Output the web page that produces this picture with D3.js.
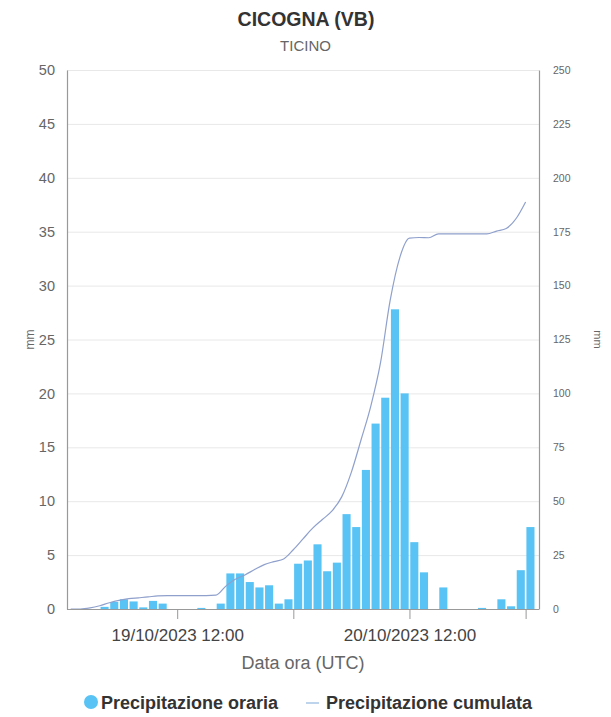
<!DOCTYPE html>
<html>
<head>
<meta charset="utf-8">
<script src="https://cdn.jsdelivr.net/npm/d3@7"></script>
<style>
  html, body { margin: 0; padding: 0; background: #fff; }
  svg { display: block; font-family: "Liberation Sans", Arial, sans-serif; }
</style>
</head>
<body>
<svg id="chart" width="611" height="717"></svg>
<script>
// Hourly precipitation (mm), each value covers the hour starting at the given UTC time
const hourStart = [
  "2023-10-19T04:00Z", "2023-10-19T05:00Z", "2023-10-19T06:00Z", "2023-10-19T07:00Z",
  "2023-10-19T08:00Z", "2023-10-19T09:00Z", "2023-10-19T10:00Z", "2023-10-19T11:00Z",
  "2023-10-19T12:00Z", "2023-10-19T13:00Z", "2023-10-19T14:00Z", "2023-10-19T15:00Z",
  "2023-10-19T16:00Z", "2023-10-19T17:00Z", "2023-10-19T18:00Z", "2023-10-19T19:00Z",
  "2023-10-19T20:00Z", "2023-10-19T21:00Z", "2023-10-19T22:00Z", "2023-10-19T23:00Z",
  "2023-10-20T00:00Z", "2023-10-20T01:00Z", "2023-10-20T02:00Z", "2023-10-20T03:00Z",
  "2023-10-20T04:00Z", "2023-10-20T05:00Z", "2023-10-20T06:00Z", "2023-10-20T07:00Z",
  "2023-10-20T08:00Z", "2023-10-20T09:00Z", "2023-10-20T10:00Z", "2023-10-20T11:00Z",
  "2023-10-20T12:00Z", "2023-10-20T13:00Z", "2023-10-20T14:00Z", "2023-10-20T15:00Z",
  "2023-10-20T16:00Z", "2023-10-20T17:00Z", "2023-10-20T18:00Z", "2023-10-20T19:00Z",
  "2023-10-20T20:00Z", "2023-10-20T21:00Z", "2023-10-20T22:00Z", "2023-10-20T23:00Z",
  "2023-10-21T00:00Z"
];
const rainHourly = [
  0.2, 0.65, 0.9, 0.7,
  0.15, 0.75, 0.5, 0,
  0, 0, 0.1, 0,
  0.5, 3.3, 3.3, 2.5,
  2.0, 2.2, 0.5, 0.9,
  4.2, 4.5, 6.0, 3.5,
  4.3, 8.8, 7.6, 12.9,
  17.2, 19.6, 27.8, 20.0,
  6.2, 3.4, 0, 2.0,
  0, 0, 0, 0.1,
  0, 0.9, 0.25, 3.6,
  7.6
];

// Cumulative precipitation (mm) on the right axis
const cumTime = [
  "2023-10-19T01:00Z", "2023-10-19T02:00Z", "2023-10-19T03:00Z", "2023-10-19T04:00Z",
  "2023-10-19T05:00Z", "2023-10-19T06:00Z", "2023-10-19T07:00Z", "2023-10-19T08:00Z",
  "2023-10-19T09:00Z", "2023-10-19T10:00Z", "2023-10-19T11:00Z", "2023-10-19T12:00Z",
  "2023-10-19T13:00Z", "2023-10-19T14:00Z", "2023-10-19T15:00Z", "2023-10-19T16:00Z",
  "2023-10-19T17:00Z", "2023-10-19T18:00Z", "2023-10-19T19:00Z", "2023-10-19T20:00Z",
  "2023-10-19T21:00Z", "2023-10-19T22:00Z", "2023-10-19T23:00Z", "2023-10-20T00:00Z",
  "2023-10-20T01:00Z", "2023-10-20T02:00Z", "2023-10-20T03:00Z", "2023-10-20T04:00Z",
  "2023-10-20T05:00Z", "2023-10-20T06:00Z", "2023-10-20T07:00Z", "2023-10-20T08:00Z",
  "2023-10-20T09:00Z", "2023-10-20T10:00Z", "2023-10-20T11:00Z", "2023-10-20T12:00Z",
  "2023-10-20T13:00Z", "2023-10-20T14:00Z", "2023-10-20T15:00Z", "2023-10-20T16:00Z",
  "2023-10-20T17:00Z", "2023-10-20T18:00Z", "2023-10-20T19:00Z", "2023-10-20T20:00Z",
  "2023-10-20T21:00Z", "2023-10-20T22:00Z", "2023-10-20T23:00Z", "2023-10-21T00:00Z"
];
const rainCumulative = [
  0, 0, 0.5, 1.5,
  2.9, 4.0, 4.8, 5.2,
  5.6, 6.1, 6.2, 6.2,
  6.2, 6.2, 6.2, 6.4,
  10.5, 13.8, 15.8, 18.3,
  20.6, 22.0, 23.2, 27.5,
  32.5, 37.5, 41.5, 45.5,
  52, 63.5, 78.5, 94,
  114, 143, 163, 172,
  172.3, 172.2, 174, 174,
  174, 174, 174, 174,
  175.3, 176.5, 181, 188.8
];

const leftTicks = [0, 5, 10, 15, 20, 25, 30, 35, 40, 45, 50];
const rightTicks = [0, 25, 50, 75, 100, 125, 150, 175, 200, 225, 250];
const xTicks = ["2023-10-19T12:00Z", "2023-10-20T00:00Z", "2023-10-20T12:00Z", "2023-10-21T00:00Z"];
const xTickLabels = ["19/10/2023 12:00", "", "20/10/2023 12:00", ""];

const titleText = "CICOGNA (VB)";
const subtitleText = "TICINO";
const xAxisTitle = "Data ora (UTC)";
const yAxisTitle = "mm";
const seriesNames = ["Precipitazione oraria", "Precipitazione cumulata"];

const barColor = "#58c3f4";
const lineColor = "#8fa0cc";

const svg = d3.select("#chart");
const W = 611, H = 717;
const m = { left: 67, right: 72, top: 70, bottom: 108 };
const plotW = W - m.left - m.right;
const plotH = H - m.top - m.bottom;

const x = d3.scaleUtc()
  .domain([new Date("2023-10-19T00:37Z"), new Date("2023-10-21T01:23Z")])
  .range([m.left, m.left + plotW]);
const yL = d3.scaleLinear().domain([0, 50]).range([m.top + plotH, m.top]);
const yR = d3.scaleLinear().domain([0, 250]).range([m.top + plotH, m.top]);

// Title and subtitle
svg.append("text").attr("x", 306).attr("y", 26).attr("text-anchor", "middle")
  .attr("font-size", 19.5).attr("font-weight", "bold").attr("fill", "#333").text(titleText);
svg.append("text").attr("x", 305.5).attr("y", 51).attr("text-anchor", "middle")
  .attr("font-size", 15).attr("fill", "#666").text(subtitleText);

// Gridlines
svg.append("g").selectAll("line").data(leftTicks.slice(1)).join("line")
  .attr("x1", m.left).attr("x2", m.left + plotW)
  .attr("y1", d => yL(d) + 0.5).attr("y2", d => yL(d) + 0.5)
  .attr("stroke", "#e8e8e8").attr("stroke-width", 1);

// Left axis
const gL = svg.append("g").attr("transform", `translate(${m.left},0)`)
  .call(d3.axisLeft(yL).tickValues(leftTicks).tickSize(0).tickPadding(12));
gL.select(".domain").attr("stroke", "#999").attr("stroke-width", 1.2);
gL.selectAll("text").attr("font-size", 14.5).attr("fill", "#666")
  .attr("font-family", "'Liberation Sans', Arial, sans-serif");

// Right axis
const gR = svg.append("g").attr("transform", `translate(${m.left + plotW},0)`)
  .call(d3.axisRight(yR).tickValues(rightTicks).tickSize(0).tickPadding(14));
gR.select(".domain").attr("stroke", "#999").attr("stroke-width", 1.2);
gR.selectAll("text").attr("font-size", 10.5).attr("fill", "#666")
  .attr("font-family", "'Liberation Sans', Arial, sans-serif");

// Axis titles
svg.append("text").attr("transform", `translate(34,${m.top + plotH / 2}) rotate(-90)`)
  .attr("text-anchor", "middle").attr("font-size", 12).attr("fill", "#666").text(yAxisTitle);
svg.append("text").attr("transform", `translate(594,${m.top + plotH / 2}) rotate(90)`)
  .attr("text-anchor", "middle").attr("font-size", 11).attr("fill", "#666").text(yAxisTitle);

// Hourly bars
const bars = hourStart.map((t, i) => ({ t0: new Date(t), v: rainHourly[i] }));
svg.append("g").selectAll("rect").data(bars.filter(d => d.v > 0)).join("rect")
  .attr("x", d => x(d.t0) + 0.8)
  .attr("width", d => x(d3.utcHour.offset(d.t0, 1)) - x(d.t0) - 1.6)
  .attr("y", d => yL(d.v))
  .attr("height", d => yL(0) - yL(d.v))
  .attr("fill", barColor);

// Cumulative line
const cum = cumTime.map((t, i) => ({ t: new Date(t), v: rainCumulative[i] }));
svg.append("path").datum(cum)
  .attr("d", d3.line().x(d => x(d.t)).y(d => yR(d.v)).curve(d3.curveMonotoneX))
  .attr("fill", "none").attr("stroke", lineColor).attr("stroke-width", 1.2);

// Bottom axis
const gB = svg.append("g").attr("transform", `translate(0,${m.top + plotH})`)
  .call(d3.axisBottom(x).tickValues(xTicks.map(d => new Date(d))).tickSize(10).tickPadding(10)
    .tickFormat((d, i) => xTickLabels[i]));
gB.select(".domain").attr("stroke", "#999").attr("stroke-width", 1.2).attr("d", `M${m.left},0.5H${m.left + plotW}`);
gB.selectAll(".tick line").attr("stroke", "#999");
gB.selectAll("text").attr("font-size", 17).attr("fill", "#444")
  .attr("font-family", "'Liberation Sans', Arial, sans-serif");

svg.append("text").attr("x", 303).attr("y", 669).attr("text-anchor", "middle")
  .attr("font-size", 18).attr("fill", "#666").text(xAxisTitle);

// Legend
const lg = svg.append("g");
lg.append("circle").attr("cx", 91).attr("cy", 702).attr("r", 7).attr("fill", barColor);
lg.append("text").attr("x", 101).attr("y", 709).attr("font-size", 18).attr("font-weight", "bold")
  .attr("fill", "#333").text(seriesNames[0]);
lg.append("line").attr("x1", 306).attr("x2", 319).attr("y1", 703).attr("y2", 703)
  .attr("stroke", "#a9c4e6").attr("stroke-width", 1.5);
lg.append("text").attr("x", 326).attr("y", 709).attr("font-size", 18).attr("font-weight", "bold")
  .attr("fill", "#333").text(seriesNames[1]);
</script>
</body>
</html>
